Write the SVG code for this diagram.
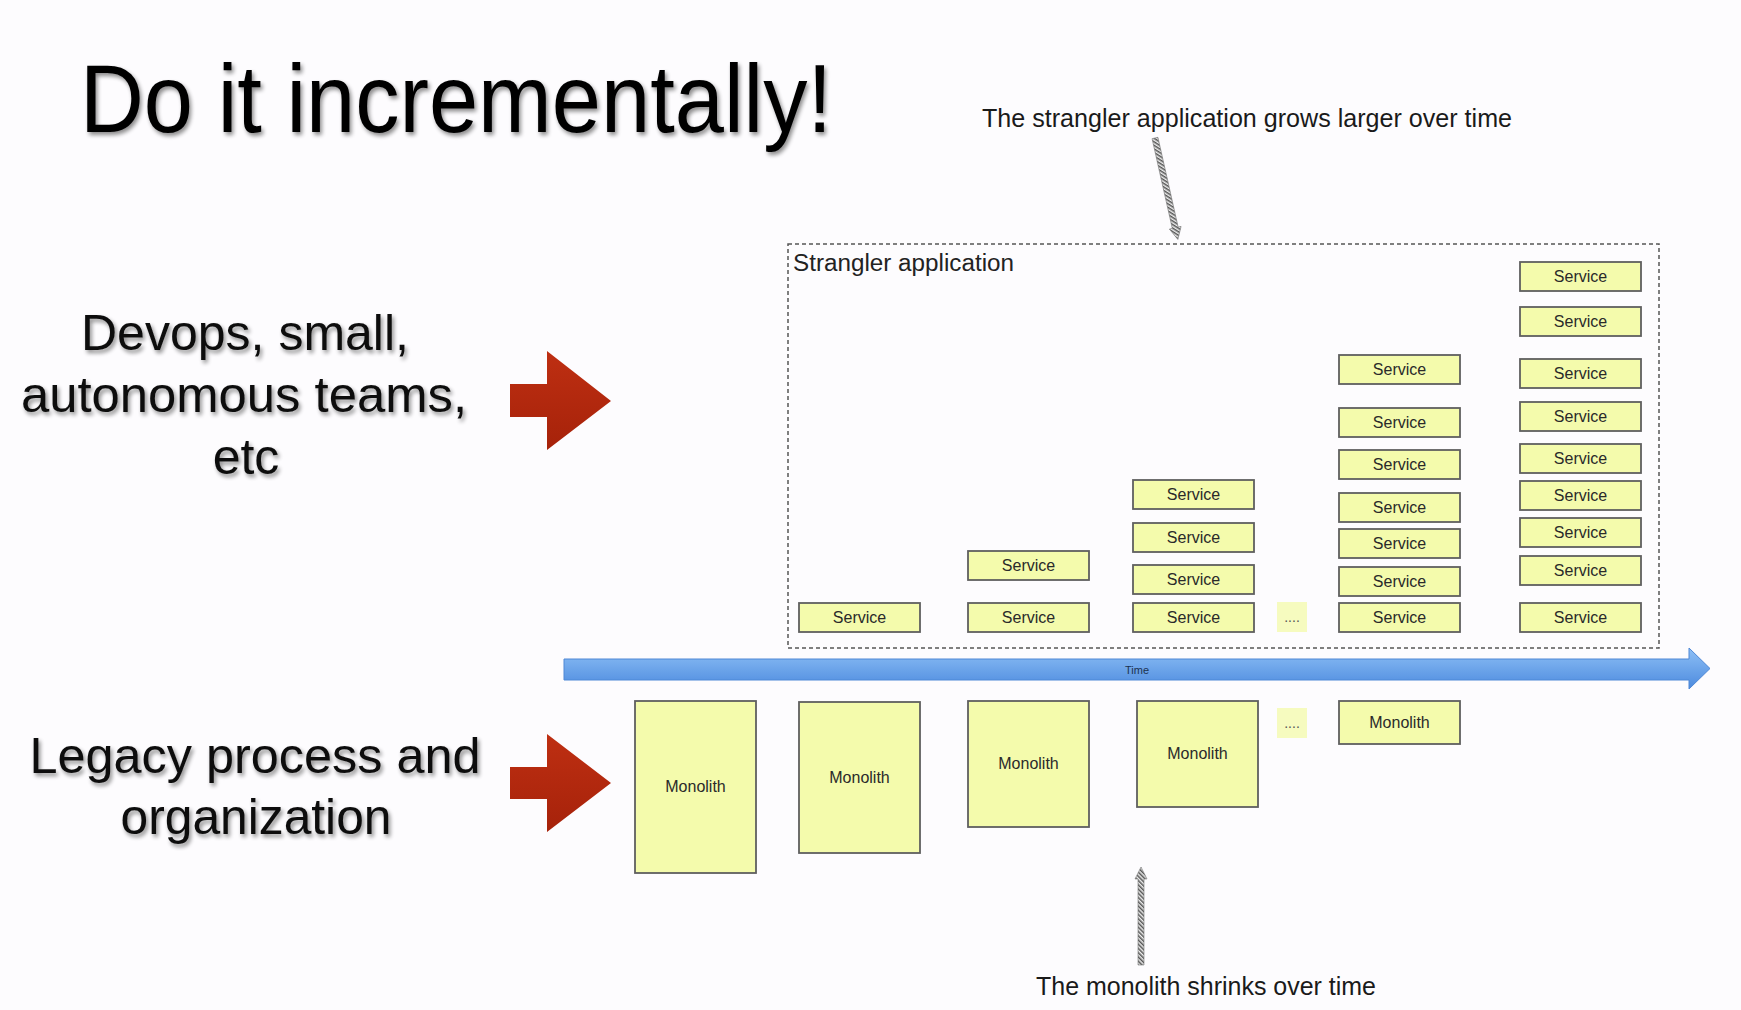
<svg xmlns="http://www.w3.org/2000/svg" width="1741" height="1010" viewBox="0 0 1741 1010">
  <defs>
    <style>
      text { font-family: "Liberation Sans", Arial, sans-serif; }
      .title { font-size: 96px; fill: #000; }
      .side { font-size: 50px; fill: #111; text-anchor: middle; }
      .note { font-size: 25px; fill: #1a1a1a; }
      .svc rect { fill: #f4fbac; stroke: #5f5f5f; stroke-width: 1.8; }
      .svc text { font-size: 16px; fill: #2a2a2a; text-anchor: middle; }
      .mono rect { fill: #f4fbac; stroke: #5f5f5f; stroke-width: 1.8; }
      .mono text { font-size: 16px; fill: #2a2a2a; text-anchor: middle; }
      .dots rect { fill: #f6fbbf; stroke: none; }
      .dots text { font-size: 14px; fill: #555; text-anchor: middle; }
      .frame { fill: none; stroke: #555; stroke-width: 1.5; stroke-dasharray: 4 3; }
      .hatch-arrow { fill: url(#hatch); stroke: #777; stroke-width: 0.6; }
    </style>
    <filter id="shadow" x="-10%" y="-20%" width="120%" height="150%">
      <feGaussianBlur in="SourceAlpha" stdDeviation="2"/>
      <feOffset dx="2" dy="3" result="blur"/>
      <feComponentTransfer><feFuncA type="linear" slope="0.45"/></feComponentTransfer>
      <feMerge><feMergeNode/><feMergeNode in="SourceGraphic"/></feMerge>
    </filter>
    <pattern id="hatch" patternUnits="userSpaceOnUse" width="3" height="3" patternTransform="rotate(45)">
      <rect width="3" height="3" fill="#eee"/>
      <rect width="1.5" height="3" fill="#555"/>
    </pattern>
    <linearGradient id="timeGrad" x1="0" y1="0" x2="0" y2="1">
      <stop offset="0" stop-color="#8ec0f6"/>
      <stop offset="1" stop-color="#4c8ade"/>
    </linearGradient>
    <linearGradient id="redGrad" x1="0" y1="0" x2="0" y2="1">
      <stop offset="0" stop-color="#be2f12"/>
      <stop offset="1" stop-color="#a6220a"/>
    </linearGradient>
  </defs>

  <rect width="1741" height="1010" fill="#fdfcfe"/>

  <!-- headline -->
  <text class="title" x="80" y="132" textLength="752" lengthAdjust="spacingAndGlyphs" filter="url(#shadow)">Do it incrementally!</text>

  <!-- left-hand captions -->
  <g id="devops-label" filter="url(#shadow)">
    <text class="side" x="245" y="350" textLength="328" lengthAdjust="spacingAndGlyphs">Devops, small,</text>
    <text class="side" x="244" y="412" textLength="446" lengthAdjust="spacingAndGlyphs">autonomous teams,</text>
    <text class="side" x="246" y="474">etc</text>
  </g>
  <g id="legacy-label" filter="url(#shadow)">
    <text class="side" x="255" y="773" textLength="451" lengthAdjust="spacingAndGlyphs">Legacy process and</text>
    <text class="side" x="256" y="834" textLength="271" lengthAdjust="spacingAndGlyphs">organization</text>
  </g>

  <!-- big red arrows -->
  <g id="red-arrow-top">
    <polygon fill="url(#redGrad)" points="510,384 547,384 547,351 611,401 547,450 547,417 510,417"/>
  </g>
  <g id="red-arrow-bottom">
    <polygon fill="url(#redGrad)" points="510,767 547,767 547,734 611,783 547,832 547,799 510,799"/>
  </g>

  <!-- annotations -->
  <text class="note" x="982" y="127" textLength="530" lengthAdjust="spacingAndGlyphs">The strangler application grows larger over time</text>
  <text class="note" x="1036" y="995" textLength="340" lengthAdjust="spacingAndGlyphs">The monolith shrinks over time</text>

  <!-- strangler application container -->
  <g id="strangler-app">
    <rect class="frame" x="788" y="244" width="871" height="404"/>
    <text x="793" y="271" font-size="23" fill="#222" textLength="221" lengthAdjust="spacingAndGlyphs">Strangler application</text>
  </g>

  <!-- services, one column per step in time -->
  <g id="services-step1" class="svc">
    <rect x="799" y="603" width="121" height="29"/><text x="859.5" y="623">Service</text>
  </g>
  <g id="services-step2" class="svc">
    <rect x="968" y="551" width="121" height="29"/><text x="1028.5" y="571">Service</text>
    <rect x="968" y="603" width="121" height="29"/><text x="1028.5" y="623">Service</text>
  </g>
  <g id="services-step3" class="svc">
    <rect x="1133" y="480" width="121" height="29"/><text x="1193.5" y="500">Service</text>
    <rect x="1133" y="523" width="121" height="29"/><text x="1193.5" y="543">Service</text>
    <rect x="1133" y="565" width="121" height="29"/><text x="1193.5" y="585">Service</text>
    <rect x="1133" y="603" width="121" height="29"/><text x="1193.5" y="623">Service</text>
  </g>
  <g id="services-ellipsis" class="dots">
    <rect x="1277" y="602" width="30" height="30"/><text x="1292" y="622">....</text>
  </g>
  <g id="services-step4" class="svc">
    <rect x="1339" y="355" width="121" height="29"/><text x="1399.5" y="375">Service</text>
    <rect x="1339" y="408" width="121" height="29"/><text x="1399.5" y="428">Service</text>
    <rect x="1339" y="450" width="121" height="29"/><text x="1399.5" y="470">Service</text>
    <rect x="1339" y="493" width="121" height="29"/><text x="1399.5" y="513">Service</text>
    <rect x="1339" y="529" width="121" height="29"/><text x="1399.5" y="549">Service</text>
    <rect x="1339" y="567" width="121" height="29"/><text x="1399.5" y="587">Service</text>
    <rect x="1339" y="603" width="121" height="29"/><text x="1399.5" y="623">Service</text>
  </g>
  <g id="services-step5" class="svc">
    <rect x="1520" y="262" width="121" height="29"/><text x="1580.5" y="282">Service</text>
    <rect x="1520" y="307" width="121" height="29"/><text x="1580.5" y="327">Service</text>
    <rect x="1520" y="359" width="121" height="29"/><text x="1580.5" y="379">Service</text>
    <rect x="1520" y="402" width="121" height="29"/><text x="1580.5" y="422">Service</text>
    <rect x="1520" y="444" width="121" height="29"/><text x="1580.5" y="464">Service</text>
    <rect x="1520" y="481" width="121" height="29"/><text x="1580.5" y="501">Service</text>
    <rect x="1520" y="518" width="121" height="29"/><text x="1580.5" y="538">Service</text>
    <rect x="1520" y="556" width="121" height="29"/><text x="1580.5" y="576">Service</text>
    <rect x="1520" y="603" width="121" height="29"/><text x="1580.5" y="623">Service</text>
  </g>

  <!-- time axis -->
  <g id="time-axis">
    <polygon points="564,659 1689,659 1689,648 1710,668.5 1689,689 1689,680 564,680" fill="url(#timeGrad)" stroke="#4f88d6" stroke-width="1"/>
    <text x="1137" y="674" font-size="11" fill="#1d3350" text-anchor="middle">Time</text>
  </g>

  <!-- monolith, shrinking at each step -->
  <g id="monolith-step1" class="mono">
    <rect x="635" y="701" width="121" height="172"/><text x="695.5" y="792">Monolith</text>
  </g>
  <g id="monolith-step2" class="mono">
    <rect x="799" y="702" width="121" height="151"/><text x="859.5" y="783">Monolith</text>
  </g>
  <g id="monolith-step3" class="mono">
    <rect x="968" y="701" width="121" height="126"/><text x="1028.5" y="769">Monolith</text>
  </g>
  <g id="monolith-step4" class="mono">
    <rect x="1137" y="701" width="121" height="106"/><text x="1197.5" y="759">Monolith</text>
  </g>
  <g id="monolith-ellipsis" class="dots">
    <rect x="1277" y="708" width="30" height="30"/><text x="1292" y="728">....</text>
  </g>
  <g id="monolith-step5" class="mono">
    <rect x="1339" y="701" width="121" height="43"/><text x="1399.5" y="728">Monolith</text>
  </g>

  <!-- callout connectors -->
  <g id="connectors">
    <!-- down into the strangler container -->
    <g transform="translate(1155,138) rotate(77.3)">
      <polygon class="hatch-arrow" points="0,-3 92,-3 92,-6 104,0 92,6 92,3 0,3"/>
    </g>
    <!-- up towards the monoliths -->
    <g transform="translate(1141,965) rotate(-90)">
      <polygon class="hatch-arrow" points="0,-3 86,-3 86,-6 98,0 86,6 86,3 0,3"/>
    </g>
  </g>
</svg>
